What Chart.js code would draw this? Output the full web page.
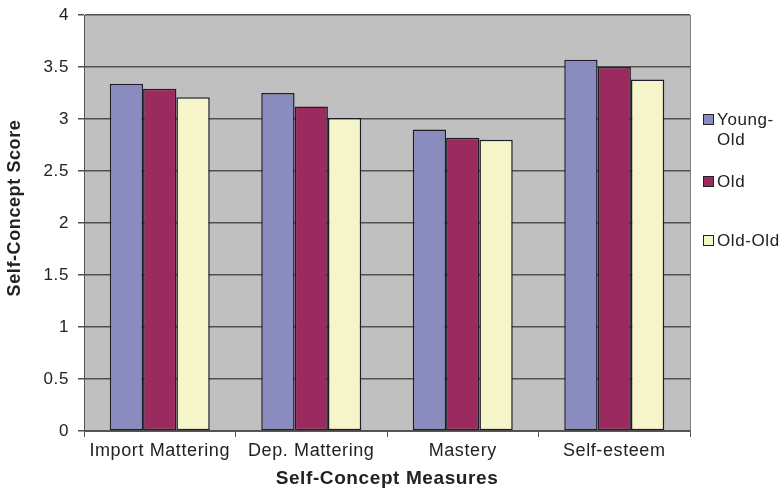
<!DOCTYPE html>
<html>
<head>
<meta charset="utf-8">
<script src="https://cdn.jsdelivr.net/npm/chart.js@4/dist/chart.umd.min.js"></script>
<style>
  html, body { margin: 0; padding: 0; background: #ffffff; }
  #wrap { width: 779px; height: 490px; position: relative; }
</style>
</head>
<body>
<div id="wrap"><canvas id="chart" width="779" height="490"></canvas></div>
<script>
// Self-concept measures by age group
const categories = ['Import Mattering', 'Dep. Mattering', 'Mastery', 'Self-esteem'];
const seriesNames = [['Young-', 'Old'], ['Old'], ['Old-Old']];
const youngOld = [3.34, 3.25, 2.90, 3.57];
const old = [3.29, 3.12, 2.82, 3.50];
const oldOld = [3.21, 3.01, 2.80, 3.38];
const yTicks = [0, 0.5, 1, 1.5, 2, 2.5, 3, 3.5, 4];
const yTitle = 'Self-Concept Score';
const xTitle = 'Self-Concept Measures';

const colors = ['#8a8cc0', '#9b2a5f', '#f6f5c9'];
const fontFamily = 'Arial, "Liberation Sans", sans-serif';

// Gray plot background with a frame; slightly wider letter spacing for all text
const plotBackground = {
  id: 'plotBackground',
  beforeDraw(chart) {
    const { ctx, chartArea: a } = chart;
    ctx.letterSpacing = '0.6px';
    ctx.save();
    ctx.fillStyle = '#c0c0c0';
    ctx.fillRect(a.left, a.top, a.right - a.left, a.bottom - a.top);
    ctx.restore();
  },
  afterDraw(chart) {
    const { ctx, chartArea: a } = chart;
    ctx.save();
    ctx.strokeStyle = '#808080';
    ctx.lineWidth = 1;
    ctx.beginPath();
    ctx.moveTo(a.right + 0.5, a.top);
    ctx.lineTo(a.right + 0.5, a.bottom);
    ctx.stroke();
    // vertical axis title, set a little above the plot's middle
    ctx.translate(15, 208);
    ctx.rotate(-Math.PI / 2);
    ctx.font = 'bold 18px ' + fontFamily;
    ctx.fillStyle = '#222';
    ctx.textAlign = 'center';
    ctx.textBaseline = 'middle';
    ctx.fillText(yTitle, 0, 0);
    ctx.restore();
  }
};

// Legend drawn to the right of the plot
const sideLegend = {
  id: 'sideLegend',
  afterDraw(chart) {
    const { ctx } = chart;
    const rows = [119, 181, 240];
    ctx.save();
    ctx.font = '17px ' + fontFamily;
    ctx.textBaseline = 'middle';
    chart.data.datasets.forEach((ds, i) => {
      const y = rows[i];
      ctx.fillStyle = ds.backgroundColor;
      ctx.fillRect(704, y - 4, 9, 9);
      ctx.strokeStyle = '#222';
      ctx.lineWidth = 1;
      ctx.strokeRect(703.5, y - 4.5, 10, 10);
      ctx.fillStyle = '#222';
      const lines = seriesNames[i];
      lines.forEach((t, k) => ctx.fillText(t, 717, y + 1 + k * 20));
    });
    ctx.restore();
  }
};

new Chart(document.getElementById('chart'), {
  type: 'bar',
  data: {
    labels: categories,
    datasets: [
      { label: seriesNames[0].join(''), data: youngOld, backgroundColor: colors[0] },
      { label: seriesNames[1].join(''), data: old, backgroundColor: colors[1] },
      { label: seriesNames[2].join(''), data: oldOld, backgroundColor: colors[2] }
    ].map(d => Object.assign(d, {
      borderColor: '#1e1e28',
      borderWidth: 1.5,
      borderSkipped: false,
      categoryPercentage: 0.66,
      barPercentage: 1
    }))
  },
  options: {
    responsive: false,
    animation: false,
    devicePixelRatio: 1,
    layout: { padding: { top: 15, right: 89, left: 0, bottom: 0 } },
    plugins: {
      legend: { display: false },
      tooltip: { enabled: false }
    },
    scales: {
      x: {
        offset: true,
        grid: {
          offset: true,
          drawOnChartArea: false,
          color: '#555',
          tickLength: 6,
          lineWidth: 1
        },
        border: { color: '#555', width: 1 },
        ticks: {
          color: '#222',
          font: { family: fontFamily, size: 18 },
          padding: 3,
          maxRotation: 0
        },
        title: {
          display: true,
          text: xTitle,
          color: '#222',
          font: { family: fontFamily, size: 19, weight: 'bold' },
          padding: { top: 4, bottom: 0 }
        },
        afterFit(scale) { scale.height = 59; }
      },
      y: {
        min: 0,
        max: 4,
        afterBuildTicks(scale) { scale.ticks = yTicks.map(v => ({ value: v })); },
        grid: {
          color: '#505050',
          lineWidth: 1.5,
          tickLength: 6
        },
        border: { color: '#555', width: 1 },
        ticks: {
          color: '#222',
          font: { family: fontFamily, size: 17 },
          padding: 9,
          callback: v => String(v)
        },
        title: { display: false },
        afterFit(scale) {
          scale.width = 84;
          scale.paddingTop = 0;
          scale.paddingBottom = 0;
        }
      }
    }
  },
  plugins: [plotBackground, sideLegend]
});
</script>
</body>
</html>
